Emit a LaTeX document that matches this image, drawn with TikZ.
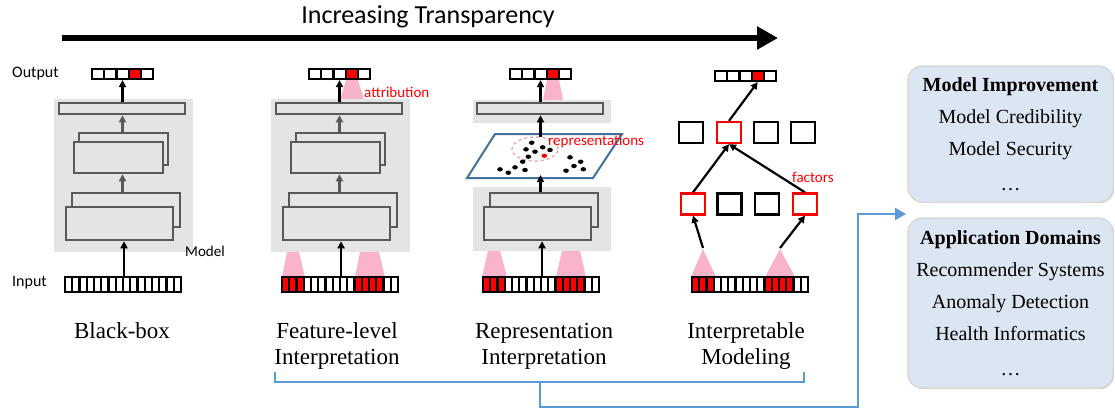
\documentclass[tikz,border=0pt]{standalone}
\usepackage{fontspec}
\setmainfont{Liberation Serif}
\newfontfamily\calibri{Carlito}
\usetikzlibrary{arrows.meta}
\usetikzlibrary{shadows}

\definecolor{bggray}{HTML}{E4E4E4}
\definecolor{boxgray}{HTML}{595959}
\definecolor{attrpink}{HTML}{F9B4CA}
\definecolor{linkblue}{HTML}{5B9BD5}
\definecolor{planeblue}{HTML}{41719C}
\definecolor{paleblue}{HTML}{DCE6F2}
\definecolor{ringred}{HTML}{F5A3A3}

\tikzset{
  panel/.style={fill=bggray, inner sep=0pt},
  layer/.style={draw=boxgray, line width=2.6pt, fill=bggray, inner sep=0pt},
  outcell/.style={draw, line width=2.2pt, minimum width=12.2pt, minimum height=10pt, inner sep=0pt},
  incell/.style={draw, line width=2.1pt, minimum width=7.25pt, minimum height=15pt, inner sep=0pt},
  factor/.style={draw, line width=2.3pt, minimum width=24pt, minimum height=21pt, inner sep=0pt},
  flow/.style={-{Triangle[length=7pt,width=7pt]}, line width=2.2pt},
  inflow/.style={flow, boxgray},
  tag/.style={font=\calibri\fontsize{15}{18}\selectfont, inner sep=0pt},
  hint/.style={tag, text=red},
  stage/.style={font=\fontsize{23}{26}\selectfont, align=center, inner sep=0pt},
  usecase/.style={rounded corners=14pt, fill=paleblue, draw=black!15, line width=1.5pt,
    minimum width=205pt, align=center, font=\fontsize{20}{32}\selectfont,
    drop shadow={shadow xshift=1.2pt, shadow yshift=-1.2pt, opacity=.35}},
  link/.style={linkblue, line width=2.2pt},
}

\begin{document}
\begin{tikzpicture}[x=1pt,y=-1pt]
  \useasboundingbox (0,0) rectangle (1115,410);

  % transparency axis
  \coordinate (tr-from) at (62,38);
  \coordinate (tr-to) at (778,38);
  \draw[line width=6.5pt, -{Triangle[length=21pt,width=22pt]}] (tr-from) -- (tr-to);
  \node (tr-lab) [font=\calibri\fontsize{26}{30}\selectfont, inner sep=0pt] at (428,17)
    {Increasing Transparency};

  % attribution cones
  \fill[attrpink] (346,80) -- (358,80) -- (364,100) -- (340,100) -- cycle;
  \fill[attrpink] (547,80) -- (559,80) -- (563,100) -- (543,100) -- cycle;
  \fill[attrpink] (287,252) -- (299,252) -- (305,277) -- (282,277) -- cycle;
  \fill[attrpink] (360,252) -- (379,252) -- (385,277) -- (355,277) -- cycle;
  \fill[attrpink] (488,251) -- (500,251) -- (507,277) -- (482,277) -- cycle;
  \fill[attrpink] (562,251) -- (580,251) -- (586,277) -- (556,277) -- cycle;
  \fill[attrpink] (703,249) -- (716,277) -- (691,277) -- cycle;
  \fill[attrpink] (780,249) -- (795,277) -- (765,277) -- cycle;

  % black-box and feature-level models
  \foreach \n/\dx in {bb/0, fl/217} {
    \node (\n-bg) [panel, minimum width=139pt, minimum height=153pt] at ({123.5+\dx},175.5) {};
    \node (\n-top) [layer, minimum width=126pt, minimum height=11pt] at ({122+\dx},108.5) {};
    \node (\n-midback) [layer, minimum width=89pt, minimum height=32pt] at ({123.5+\dx},149) {};
    \node (\n-midfront) [layer, minimum width=89pt, minimum height=31pt] at ({118.5+\dx},157.5) {};
    \node (\n-loback) [layer, minimum width=108pt, minimum height=34pt] at ({126+\dx},210) {};
    \node (\n-lofront) [layer, minimum width=107pt, minimum height=33pt] at ({119.5+\dx},223.5) {};
  }

  % representation model
  \node (ri-bgtop) [panel, minimum width=138pt, minimum height=23pt] at (542,111.5) {};
  \node (ri-bglow) [panel, minimum width=138pt, minimum height=64pt] at (542,219) {};
  \node (ri-top) [layer, minimum width=126pt, minimum height=11pt] at (540,108.5) {};
  \node (ri-loback) [layer, minimum width=108pt, minimum height=34pt] at (544,210) {};
  \node (ri-lofront) [layer, minimum width=107pt, minimum height=33pt] at (537.5,223.5) {};

  \draw[planeblue, line width=2pt, fill=white]
    (467,178) -- (593,178) -- (622,134) -- (495,134) -- cycle;
  \draw[ringred, dashed, line width=1.3pt] (535,149) ellipse [x radius=23pt, y radius=12pt];
  \foreach \x/\y in {531.7/142.7, 526/149.3, 535/151.7, 542.7/147.3, 550/150,
      528.3/156.7, 522.7/161.7, 515/167.3, 500/169.3, 508.3/172.7, 525/170,
      570/157.3, 580.7/161.7, 574/166, 583.3/169.3, 566/170.7}
    \fill (\x,\y) ellipse [x radius=2.8pt, y radius=2.2pt];
  \fill[red] (544.3,155.7) ellipse [x radius=2.8pt, y radius=2.2pt];
  \coordinate (ri-pin) at (540.5,175);
  \coordinate (ri-pout) at (540.5,137);

  % output and input vectors
  \foreach \n/\x/\y in {bb/92/74, fl/309/74, ri/510/74, im/715/76}
    \foreach \i in {1,...,5} {
      \def\c{white}
      \ifnum\i=4 \def\c{red}\fi
      \node (\n-o\i) [outcell, fill=\c] at ({\x+(\i-.5)*12.2},\y) {};
    }
  \foreach \n/\x/\k in {bb/65/0, fl/282/1, ri/483/1, im/692/1}
    \foreach \i in {1,...,16} {
      \def\c{white}
      \ifnum\k=1 \ifnum\i<4 \def\c{red}\fi \ifnum\i>10 \ifnum\i<15 \def\c{red}\fi\fi\fi
      \node (\n-i\i) [incell, fill=\c] at ({\x+(\i-.5)*7.25},284.5) {};
    }

  % factors
  \foreach \x [count=\i] in {691,729,766,803} {
    \def\c{black}
    \ifnum\i=2 \def\c{red}\fi
    \node (im-u\i) [factor, draw=\c] at (\x,132.5) {};
  }
  \foreach \x [count=\i] in {693,729.5,767,805} {
    \def\c{black}
    \ifnum\i=1 \def\c{red}\fi \ifnum\i=4 \def\c{red}\fi
    \node (im-l\i) [factor, draw=\c] at (\x,204) {};
  }
  \coordinate (im-aL) at (703,248);
  \coordinate (im-aR) at (780,248);

  % flows
  \foreach \n in {bb, fl} {
    \draw[flow] (\n-i8.north east) -- (\n-i8.north east |- \n-lofront.south);
    \draw[inflow] (\n-loback.north -| \n-o3) -- (\n-midfront.south -| \n-o3);
    \draw[inflow] (\n-midback.north -| \n-o3) -- (\n-top.south -| \n-o3);
    \draw[flow] (\n-top.north -| \n-o3) -- (\n-o3.south);
  }
  \draw[flow] (ri-i8.north east) -- (ri-i8.north east |- ri-lofront.south);
  \draw[flow] (ri-loback.north -| ri-pin) -- (ri-pin);
  \draw[flow] (ri-pout) -- (ri-pout |- ri-top.south);
  \draw[flow] (ri-top.north -| ri-o3) -- (ri-o3.south);
  \draw[flow] (im-aL) -- (im-l1.south);
  \draw[flow] (im-aR) -- (im-l4.south);
  \draw[flow] (im-l1.north) -- (im-u2.south);
  \draw[flow] (im-l4.north) -- (im-u2.south);
  \draw[flow] (im-u2.north) -- (im-o4.south);

  % labels
  \node (out-lab) [tag, font=\calibri\fontsize{16}{19}\selectfont, anchor=west] at (12,74) {Output};
  \node (in-lab) [tag, font=\calibri\fontsize{16}{19}\selectfont, anchor=west] at (12,283) {Input};
  \node (bb-model) [tag, anchor=west] at (185,251) {Model};
  \node (fl-hint) [hint, anchor=west] at (364,92) {attribution};
  \node (ri-hint) [hint, anchor=west] at (548,142) {representations};
  \node (im-hint) [hint, anchor=west] at (792,177) {factors};

  \node (bb-lab) [stage] at (122,331) {Black-box};
  \node (fl-lab) [stage] at (337,346) {Feature-level\\Interpretation};
  \node (ri-lab) [stage] at (544,346) {Representation\\Interpretation};
  \node (im-lab) [stage] at (746,346) {Interpretable\\Modeling};

  % use cases
  \node (imp) [usecase, minimum height=136pt] at (1010.5,134)
    {\textbf{Model Improvement}\\Model Credibility\\Model Security\\[3pt]\dots};
  \node (app) [usecase, minimum height=170pt] at (1010.5,303)
    {\textbf{Application Domains}\\Recommender Systems\\Anomaly Detection\\Health Informatics\\[3pt]\dots};

  \coordinate (br-l) at (275,372);
  \coordinate (br-r) at (804,372);
  \coordinate (br-m) at (540,382);
  \coordinate (hop) at (858,407);
  \coordinate (gap) at (906,214);
  \draw[link] (br-l) -- ++(0,10) -| (br-r);
  \draw[link, -{Triangle[length=11pt,width=12pt]}] (br-m) |- (hop) |- (gap);
\end{tikzpicture}
\end{document}
